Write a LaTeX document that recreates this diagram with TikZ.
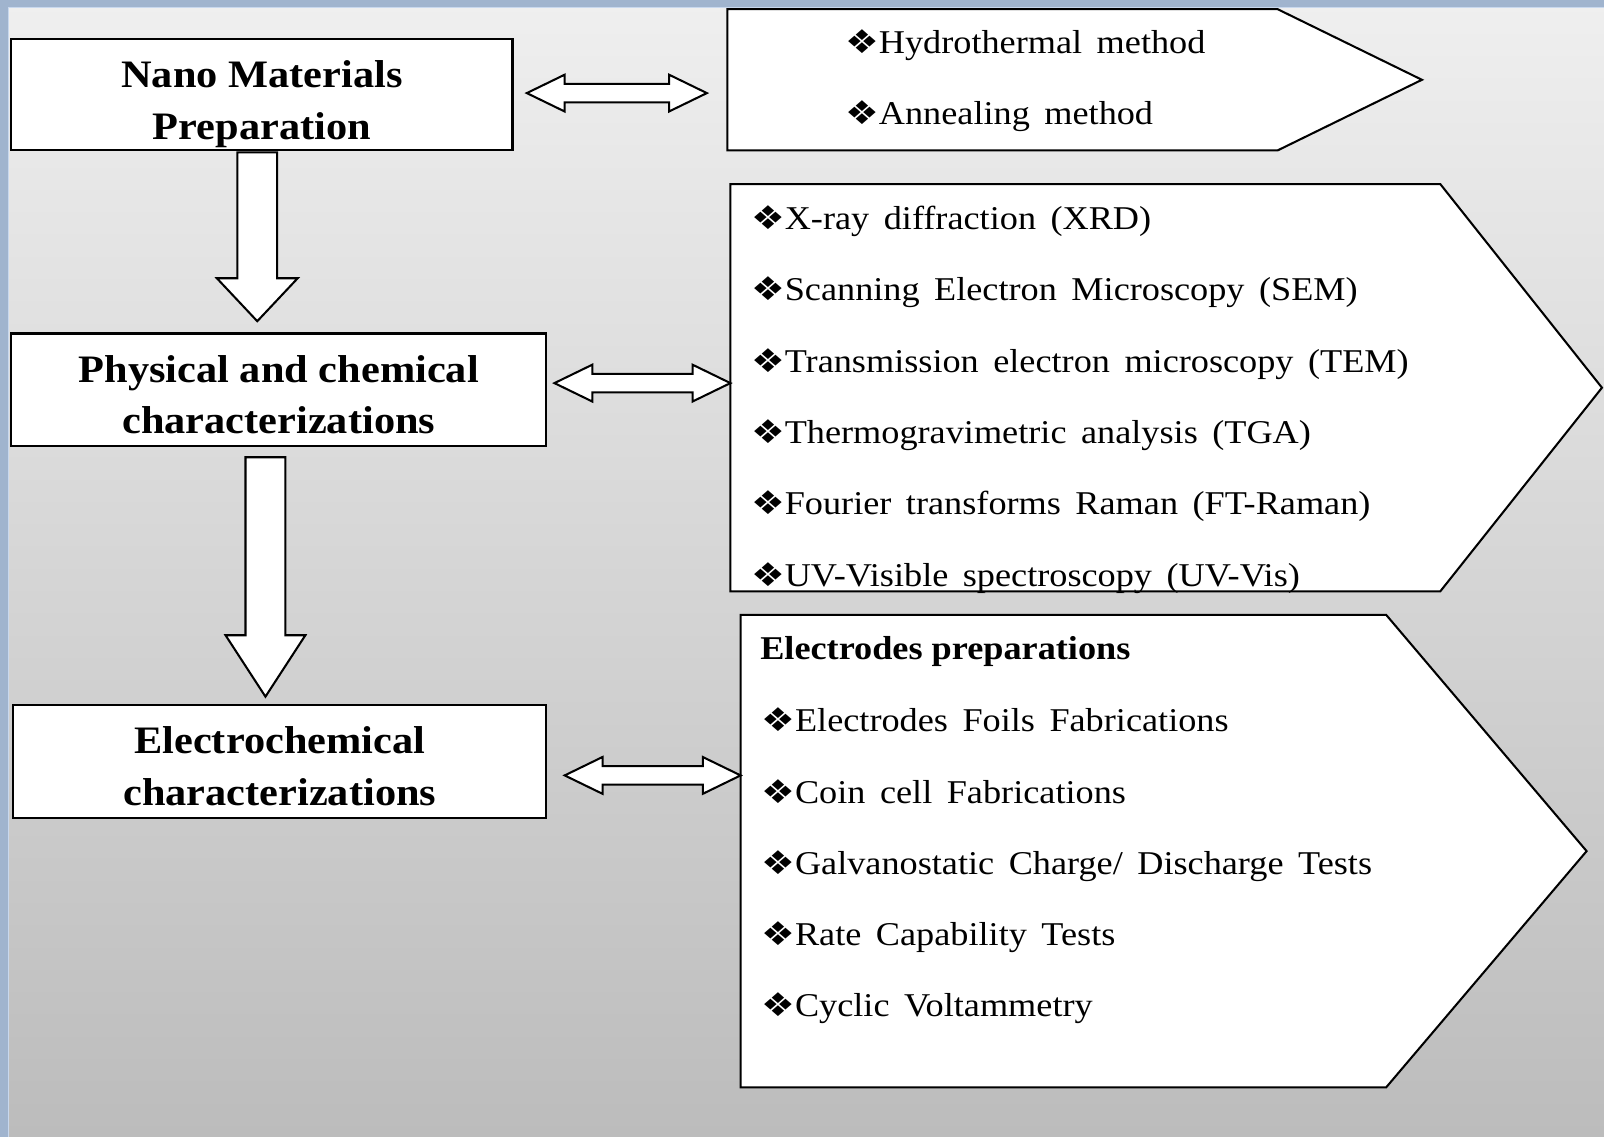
\documentclass[tikz,border=0pt]{standalone}
\usepackage{fontspec}
\setmainfont{Liberation Serif}[FakeStretch=1.09]
\newfontfamily\listfont{Liberation Serif}[FakeStretch=1.09, WordSpace=1.6]
\newfontfamily\symfont{DejaVu Sans}[FakeStretch=1.15]
\usetikzlibrary{calc}
\definecolor{bgtop}{RGB}{239,239,239}
\definecolor{bgbot}{RGB}{188,188,188}
\definecolor{frameblue}{RGB}{160,180,206}
\definecolor{framelight}{RGB}{200,216,238}
\newcommand{\bul}{{\symfont\fontsize{32}{32}\selectfont ❖}}
\newcommand{\dblarrow}[2]{%
  \draw[blk] let \p1=(#1), \p2=(#2) in
    (\x1,\y1) -- (\x1+37pt,\y1+18pt) -- (\x1+37pt,\y1+9pt) -- (\x2-37pt,\y1+9pt)
    -- (\x2-37pt,\y1+18pt) -- (\x2,\y1) -- (\x2-37pt,\y1-18pt) -- (\x2-37pt,\y1-9pt)
    -- (\x1+37pt,\y1-9pt) -- (\x1+37pt,\y1-18pt) -- cycle;}
\begin{document}
\begin{tikzpicture}[x=1pt,y=-1pt,
  box/.style={draw=black, line width=2pt, fill=white, rectangle, inner sep=0pt},
  boxtxt/.style={inner sep=0pt, anchor=base, font=\fontsize{38}{46}\selectfont\bfseries},
  listtxt/.style={inner sep=0pt, anchor=base west, font=\listfont\fontsize{32.5}{40}\selectfont},
  headtxt/.style={inner sep=0pt, anchor=base west, font=\fontsize{32.5}{40}\selectfont\bfseries},
  pent/.style={draw=black, line width=2pt, fill=white, line join=miter},
  blk/.style={draw=black, line width=2pt, fill=white, line join=miter}
]
\useasboundingbox (0,0) rectangle (1568,1111);
% background
\fill[top color=bgtop, bottom color=bgbot] (0,0) rectangle (1568,1111);
\fill[frameblue] (0,0) rectangle (1568,7);
\fill[frameblue] (0,0) rectangle (8,1111);
\draw[framelight, line width=1.2pt] (8.6,1111) -- (8.6,7.6) -- (1568,7.6);

% pentagons
\draw[pent] (711,9) -- (1249,9) -- (1390,78) -- (1249,147) -- (711,147) -- cycle;
\draw[pent] (714,180) -- (1408,180) -- (1566,379) -- (1408,578) -- (714,578) -- cycle;
\draw[pent] (724,601) -- (1355,601) -- (1551,832) -- (1355,1063) -- (724,1063) -- cycle;
\coordinate (p1w) at (711,91);
\coordinate (p2w) at (714,374.5);
\coordinate (p3w) at (724,758);

% left boxes
\node[box, minimum width=490pt, minimum height=109pt] (nano) at (256,92.5) {};
\node[box, minimum width=523pt, minimum height=110pt] (phys) at (272.5,381) {};
\node[box, minimum width=521pt, minimum height=111pt] (elec) at (273.5,744.5) {};

\node[boxtxt] (nanoA) at ($(nano.north)+(0,49)$) {Nano Materials};
\node[boxtxt] (nanoB) at ($(nano.north)+(0,99)$) {Preparation};
\node[boxtxt] (physA) at ($(phys.north)+(0,49)$) {Physical and chemical};
\node[boxtxt] (physB) at ($(phys.north)+(0,99)$) {characterizations};
\node[boxtxt] (elecA) at ($(elec.north)+(0,49)$) {Electrochemical};
\node[boxtxt] (elecB) at ($(elec.north)+(0,99)$) {characterizations};

% down block arrows
\draw[blk] let \p1=($(nano.south)+(-4.5,1)$), \p2=($(phys.north)+(-21,-11)$) in
  (\x1-19.5pt,\y1) -- (\x1+19.5pt,\y1) -- (\x1+19.5pt,\y2+42pt) -- (\x1+39.5pt,\y2+42pt)
  -- (\x1,\y2) -- (\x1-39.5pt,\y2+42pt) -- (\x1-19.5pt,\y2+42pt) -- cycle;
\draw[blk] let \p1=($(phys.south)+(-13,10)$), \p2=($(elec.north)+(-14,-7)$) in
  (\x1-19.5pt,\y1) -- (\x1+19.5pt,\y1) -- (\x1+19.5pt,\y2+60pt) -- (\x1+39pt,\y2+60pt)
  -- (\x1,\y2) -- (\x1-39pt,\y2+60pt) -- (\x1-19.5pt,\y2+60pt) -- cycle;

% double block arrows
\coordinate (a1l) at ($(nano.east)+(13,-1.5)$);
\coordinate (a1r) at ($(p1w)+(-20,0)$);
\coordinate (a2l) at ($(phys.east)+(7,-6.5)$);
\coordinate (a3l) at ($(elec.east)+(17,13.5)$);
\dblarrow{a1l}{a1r}
\dblarrow{a2l}{p2w}
\dblarrow{a3l}{p3w}

% texts in pentagons
\node[listtxt] (h1) at (826,52) {\bul Hydrothermal method};
\node[listtxt] (h2) at (826,122) {\bul Annealing method};

\node[listtxt] (c1) at (734,224) {\bul X-ray diffraction (XRD)};
\node[listtxt] (c2) at (734,294) {\bul Scanning Electron Microscopy (SEM)};
\node[listtxt] (c3) at (734,364) {\bul Transmission electron microscopy (TEM)};
\node[listtxt] (c4) at (734,434) {\bul Thermogravimetric analysis (TGA)};
\node[listtxt] (c5) at (734,503) {\bul Fourier transforms Raman (FT-Raman)};
\node[listtxt] (c6) at (734,573) {\bul UV-Visible spectroscopy (UV-Vis)};

\node[headtxt] (e0) at (743,645) {Electrodes preparations};
\node[listtxt] (e1) at (744,715) {\bul Electrodes Foils Fabrications};
\node[listtxt] (e2) at (744,785) {\bul Coin cell Fabrications};
\node[listtxt] (e3) at (744,855) {\bul Galvanostatic Charge/ Discharge Tests};
\node[listtxt] (e4) at (744,924) {\bul Rate Capability Tests};
\node[listtxt] (e5) at (744,994) {\bul Cyclic Voltammetry};
\end{tikzpicture}
\end{document}
